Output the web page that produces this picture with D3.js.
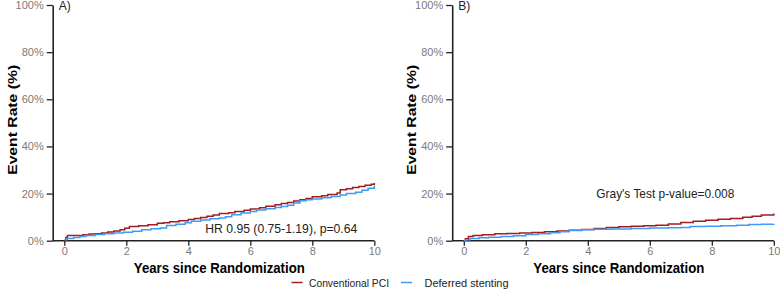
<!DOCTYPE html>
<html>
<head>
<meta charset="utf-8">
<script src="https://cdn.jsdelivr.net/npm/d3@7"></script>
<style>
  body { margin: 0; background: #fff; }
  svg { font-family: "Liberation Sans", Arial, sans-serif; }
</style>
</head>
<body>
<div id="chart"></div>
<script>
/* DATA */
const xTicks = [0, 2, 4, 6, 8, 10];
const yTicks = [0, 20, 40, 60, 80, 100];
const seriesNames = ["Conventional PCI", "Deferred stenting"];
const colors = ["#a11d21", "#3d9bf5"];

// panel A (years, cumulative event %)
const convA_t = [0, 0.05, 0.1, 0.6, 0.8, 1.0, 1.2, 1.4, 1.6, 1.8, 1.95, 2.1, 2.4, 2.7, 3.0, 3.2, 3.4, 3.7, 4.0, 4.2, 4.4, 4.6, 4.8, 5.0, 5.3, 5.5, 5.8, 6.0, 6.3, 6.5, 6.8, 7.0, 7.2, 7.4, 7.6, 7.8, 8.0, 8.3, 8.5, 8.8, 8.9, 9.1, 9.3, 9.5, 9.7, 9.9, 10];
const convA_v = [0, 1.4, 2.2, 2.5, 2.8, 3.0, 3.3, 3.7, 4.1, 4.6, 5.3, 6.0, 6.3, 6.8, 7.4, 7.6, 8.0, 8.5, 9.0, 9.4, 9.8, 10.4, 10.9, 11.5, 11.9, 12.4, 12.9, 13.5, 14.0, 14.6, 15.2, 15.8, 16.2, 16.8, 17.4, 17.9, 18.6, 19.1, 19.6, 20.2, 21.6, 22.0, 22.6, 23.0, 23.5, 24.0, 24.5];
const defA_t = [0, 0.1, 0.3, 0.5, 0.7, 1.0, 1.3, 1.6, 1.9, 2.2, 2.5, 2.8, 3.1, 3.3, 3.6, 3.9, 4.1, 4.4, 4.7, 5.0, 5.2, 5.4, 5.7, 6.0, 6.2, 6.5, 6.8, 7.0, 7.2, 7.4, 7.6, 7.8, 8.0, 8.3, 8.6, 8.9, 9.1, 9.4, 9.6, 9.8, 10];
const defA_v = [0.5, 0.9, 1.4, 1.8, 2.2, 2.6, 3.0, 3.3, 3.6, 4.0, 4.6, 5.1, 5.4, 6.4, 7.0, 7.6, 8.2, 8.8, 9.3, 9.6, 10.2, 11.0, 11.8, 12.4, 13.0, 13.6, 14.1, 14.5, 15.0, 16.0, 17.0, 17.4, 17.7, 18.2, 18.8, 19.4, 20.0, 20.6, 21.4, 22.3, 23.4];

// panel B
const convB_t = [0, 0.05, 0.15, 0.3, 0.6, 1.0, 1.4, 1.8, 2.2, 2.6, 3.0, 3.4, 3.8, 4.2, 4.6, 5.0, 5.4, 5.8, 6.2, 6.6, 7.0, 7.4, 7.8, 8.2, 8.6, 9.0, 9.3, 9.6, 10];
const convB_v = [0, 0.8, 1.8, 2.2, 2.5, 2.9, 3.1, 3.3, 3.5, 3.8, 4.1, 4.4, 4.8, 5.2, 5.6, 5.9, 6.1, 6.3, 6.6, 7.1, 7.7, 8.2, 8.7, 9.1, 9.4, 9.9, 10.4, 10.9, 11.5];
const defB_t = [0, 0.05, 0.2, 0.5, 0.8, 1.2, 1.6, 2.0, 2.4, 2.8, 3.1, 3.4, 3.8, 4.2, 4.8, 5.4, 6.0, 6.6, 7.0, 7.3, 7.8, 8.3, 8.8, 9.2, 9.6, 10];
const defB_v = [0, 0.4, 0.9, 1.2, 1.5, 1.8, 2.1, 2.6, 2.9, 3.4, 3.8, 4.3, 4.6, 4.9, 5.0, 5.2, 5.4, 5.5, 5.6, 6.0, 6.1, 6.3, 6.6, 6.9, 7.0, 7.1];

const panels = [
  { label: "A)", offset: 0, series: [[convA_t, convA_v], [defA_t, defA_v]],
    note: "HR 0.95 (0.75-1.19), p=0.64", noteX: 7.0, noteY: 5, noteLen: 152 },
  { label: "B)", offset: 399.5, series: [[convB_t, convB_v], [defB_t, defB_v]],
    note: "Gray's Test p-value=0.008", noteX: 6.5, noteY: 20, noteLen: 138 }
];

/* LAYOUT */
const width = 780, height = 291;
const axisX = 52.7, x0 = 64.3, x1 = 374.3, yTop = 5, yBot = 240.7;

const svg = d3.select("#chart").append("svg")
  .attr("width", width)
  .attr("height", height);

const xScale = d3.scaleLinear().domain([0, 10]).range([x0, x1]);
const yScale = d3.scaleLinear().domain([0, 100]).range([yBot, yTop]);

const lineGen = d3.line()
  .x(d => xScale(d[0]))
  .y(d => yScale(d[1]))
  .curve(d3.curveStepAfter);

panels.forEach(p => {
  const g = svg.append("g").attr("transform", `translate(${p.offset},0)`);

  // y axis
  const yAxis = g.append("g")
    .attr("transform", `translate(${axisX},0)`)
    .call(d3.axisLeft(yScale).tickValues(yTicks).tickFormat(d => d + "%").tickSize(6).tickSizeOuter(0).tickPadding(3));
  yAxis.select(".domain").attr("stroke", "#222").attr("stroke-width", 1.6);
  yAxis.selectAll(".tick line").attr("stroke", "#222").attr("stroke-width", 1.3);
  yAxis.selectAll("text").attr("fill", "#7a7a7a").attr("font-size", 11);

  // x axis
  const xAxis = g.append("g")
    .attr("transform", `translate(0,${yBot})`)
    .call(d3.axisBottom(xScale).tickValues(xTicks).tickSize(5).tickSizeOuter(0).tickPadding(2));
  xAxis.select(".domain").attr("d", `M${axisX},0H${x1}`).attr("stroke", "#222").attr("stroke-width", 1.6);
  xAxis.selectAll(".tick line").attr("stroke", "#222").attr("stroke-width", 1.3);
  xAxis.selectAll("text").attr("fill", "#7a7a7a").attr("font-size", 11);

  // titles
  g.append("text")
    .attr("transform", `translate(16.5,${(yTop + yBot) / 2 - 3}) rotate(-90)`)
    .attr("text-anchor", "middle")
    .attr("font-weight", "bold")
    .attr("font-size", 13.5)
    .attr("textLength", 110)
    .attr("lengthAdjust", "spacingAndGlyphs")
    .text("Event Rate (%)");

  g.append("text")
    .attr("x", (x0 + x1) / 2)
    .attr("y", 273)
    .attr("text-anchor", "middle")
    .attr("font-weight", "bold")
    .attr("font-size", 14.5)
    .attr("textLength", 171)
    .attr("lengthAdjust", "spacingAndGlyphs")
    .text("Years since Randomization");

  g.append("text")
    .attr("x", axisX + 6)
    .attr("y", 10)
    .attr("font-size", 12)
    .attr("fill", "#222")
    .text(p.label);

  // curves
  p.series.forEach((s, i) => {
    const pts = s[0].map((t, j) => [t, s[1][j]]);
    g.append("path")
      .datum(pts)
      .attr("fill", "none")
      .attr("stroke", colors[i])
      .attr("stroke-width", 1.5)
      .attr("d", lineGen);
  });

  g.append("text")
    .attr("x", xScale(p.noteX))
    .attr("y", yScale(p.noteY))
    .attr("dy", "0.35em")
    .attr("text-anchor", "middle")
    .attr("font-size", 13)
    .attr("textLength", p.noteLen)
    .attr("lengthAdjust", "spacingAndGlyphs")
    .attr("fill", "#222")
    .text(p.note);
});

// legend
const legend = svg.append("g").attr("transform", "translate(291.5,282.5)");
const legItems = [
  { x: 0, gap: 17.5, len: 80 },
  { x: 109.5, gap: 23.5, len: 84 }
];
seriesNames.forEach((name, i) => {
  const it = legItems[i];
  const lg = legend.append("g").attr("transform", `translate(${it.x},0)`);
  lg.append("line").attr("x1", 0).attr("x2", 11).attr("stroke", colors[i]).attr("stroke-width", 1.5);
  lg.append("text").attr("x", it.gap).attr("dy", "0.35em").attr("font-size", 11.5)
    .attr("textLength", it.len).attr("lengthAdjust", "spacingAndGlyphs")
    .attr("fill", "#222").text(name);
});
</script>
</body>
</html>
